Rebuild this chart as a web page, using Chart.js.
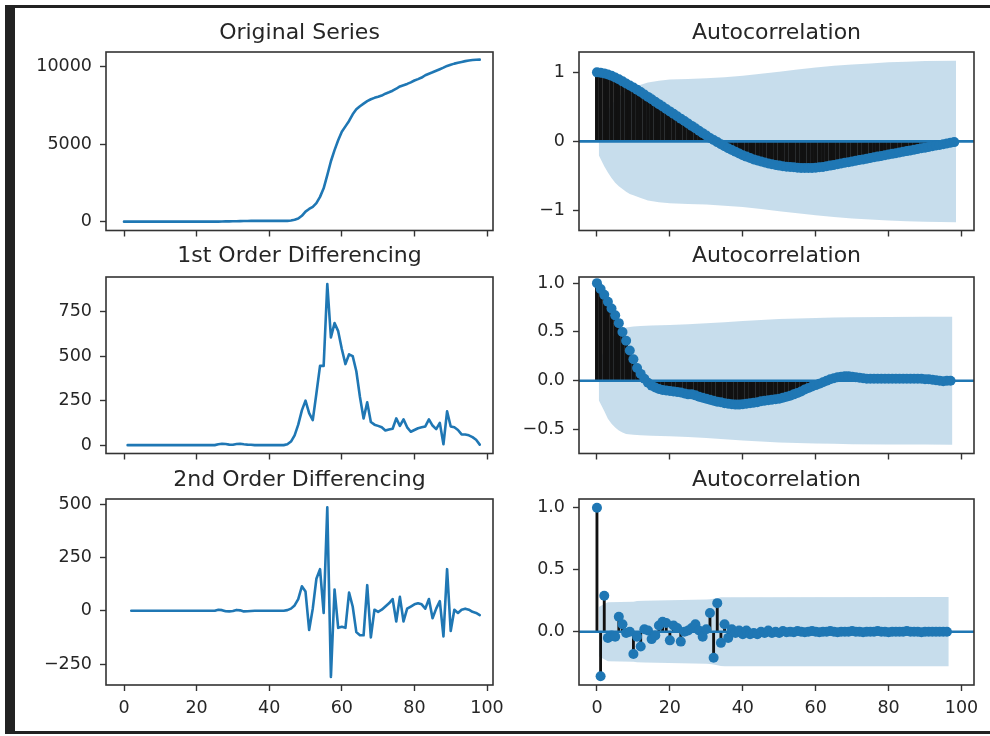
<!DOCTYPE html>
<html><head><meta charset="utf-8">
<script src="https://cdn.jsdelivr.net/npm/chart.js@4.4.1/dist/chart.umd.min.js"></script>
<style>
html,body{margin:0;padding:0;background:#fff;}
body{width:990px;height:736px;position:relative;overflow:hidden;}
canvas{position:absolute;}
.edge{position:absolute;background:#222;}
</style></head><body>
<div class="edge" style="left:5px;top:5px;width:10px;height:729px"></div>
<div class="edge" style="left:5px;top:5px;width:985px;height:3px"></div>
<div class="edge" style="left:5px;top:731px;width:985px;height:3px"></div>
<canvas id="c1" width="497" height="233" style="left:16px;top:16px"></canvas>
<canvas id="c2" width="499" height="233" style="left:489px;top:16px"></canvas>
<canvas id="c3" width="497" height="233" style="left:16px;top:239px"></canvas>
<canvas id="c4" width="499" height="233" style="left:489px;top:239px"></canvas>
<canvas id="c5" width="497" height="272" style="left:16px;top:463px"></canvas>
<canvas id="c6" width="499" height="272" style="left:489px;top:463px"></canvas>
<script>
// ---------- data ----------
const titles = ['Original Series', 'Autocorrelation', '1st Order Differencing', 'Autocorrelation', '2nd Order Differencing', 'Autocorrelation'];

const xTicks = [0, 20, 40, 60, 80, 100];
const xTickLabels = ['0', '20', '40', '60', '80', '100'];

const origTicks = [0, 5000, 10000];
const origTickLabels = ['0', '5000', '10000'];
const diff1Ticks = [0, 250, 500, 750];
const diff1TickLabels = ['0', '250', '500', '750'];
const diff2Ticks = [-250, 0, 250, 500];
const diff2TickLabels = ['\u2212250', '0', '250', '500'];
const acfOrigTicks = [-1, 0, 1];
const acfOrigTickLabels = ['\u22121', '0', '1'];
const acfD1Ticks = [-0.5, 0, 0.5, 1.0];
const acfD1TickLabels = ['\u22120.5', '0.0', '0.5', '1.0'];
const acfD2Ticks = [0, 0.5, 1.0];
const acfD2TickLabels = ['0.0', '0.5', '1.0'];

// series start indices
const origStart = 0, diff1Start = 1, diff2Start = 2;

const origValues = [
  0,0,0,0,0,0,0,0,0,0,
  0,0,0,0,0,0,0,0,0,0,
  0,0,0,0,0,0,5,13,19,22,
  24,30,38,43,46,48,48,48,48,48,
  48,48,48,48,48,53,73,120,200,380,
  650,820,960,1200,1600,2150,3000,3900,4620,5250,
  5800,6150,6500,6930,7250,7450,7620,7780,7900,7990,
  8060,8140,8260,8350,8450,8580,8730,8810,8890,8990,
  9110,9200,9300,9450,9550,9640,9740,9840,9940,10050,
  10130,10200,10260,10310,10360,10400,10430,10450,10455
];

const diff1Values = [
  0,0,0,0,0,0,0,0,0,0,
  0,0,0,0,0,0,0,0,0,0,
  0,0,0,0,0,5,8,6,3,2,
  6,8,5,3,2,0,0,0,0,0,
  0,0,0,0,5,20,55,115,195,250,
  180,140,290,445,445,905,605,685,640,540,
  455,510,500,415,270,150,240,130,115,108,
  100,82,88,92,150,108,145,100,75,85,
  95,100,105,145,110,90,125,5,190,105,
  100,85,60,60,55,45,30,3
];

const diff2Values = [
  0,0,0,0,0,0,0,0,0,0,
  0,0,0,0,0,0,0,0,0,0,
  0,0,0,0,5,3,-2,-3,-1,4,
  2,-3,-2,-1,0,0,0,0,0,0,
  0,0,0,3,10,25,55,115,90,-90,
  10,150,195,-10,485,-310,100,-80,-75,-80,
  85,20,-100,-115,-115,120,-125,5,-5,5,
  20,35,55,-50,65,-50,10,20,30,35,
  30,10,55,-35,10,45,-120,195,-95,5,
  -10,5,10,5,-5,-10,-20
];

const acfOrig = [
  1.00,0.995,0.985,0.97,0.95,0.925,0.90,0.87,0.84,0.81,
  0.78,0.75,0.715,0.68,0.645,0.61,0.575,0.54,0.505,0.47,
  0.435,0.40,0.365,0.33,0.295,0.26,0.225,0.19,0.155,0.12,
  0.085,0.05,0.02,-0.01,-0.04,-0.07,-0.10,-0.125,-0.15,-0.175,
  -0.20,-0.22,-0.24,-0.26,-0.275,-0.29,-0.305,-0.32,-0.33,-0.34,
  -0.35,-0.36,-0.365,-0.37,-0.375,-0.38,-0.385,-0.385,-0.385,-0.385,
  -0.38,-0.375,-0.37,-0.36,-0.35,-0.34,-0.33,-0.32,-0.31,-0.30,
  -0.29,-0.28,-0.27,-0.26,-0.25,-0.24,-0.23,-0.22,-0.21,-0.20,
  -0.19,-0.18,-0.17,-0.16,-0.15,-0.14,-0.13,-0.12,-0.11,-0.10,
  -0.09,-0.08,-0.07,-0.06,-0.05,-0.04,-0.03,-0.02,-0.01
];

const acfD1 = [
  1.00,0.94,0.88,0.81,0.74,0.67,0.59,0.50,0.41,0.31,
  0.22,0.13,0.07,0.02,-0.02,-0.05,-0.07,-0.085,-0.095,-0.10,
  -0.105,-0.11,-0.115,-0.12,-0.13,-0.14,-0.14,-0.15,-0.165,-0.175,
  -0.185,-0.195,-0.205,-0.215,-0.22,-0.23,-0.235,-0.24,-0.245,-0.245,
  -0.24,-0.235,-0.23,-0.225,-0.22,-0.21,-0.205,-0.20,-0.195,-0.19,
  -0.185,-0.175,-0.165,-0.155,-0.14,-0.125,-0.11,-0.09,-0.075,-0.06,
  -0.045,-0.03,-0.015,0.0,0.015,0.025,0.035,0.04,0.045,0.045,
  0.04,0.035,0.03,0.025,0.02,0.02,0.02,0.02,0.02,0.02,
  0.02,0.02,0.02,0.02,0.02,0.02,0.02,0.02,0.02,0.02,
  0.015,0.015,0.01,0.005,0.0,-0.005,0.0,0.0
];

const acfD2 = [
  1.0,-0.36,0.29,-0.05,-0.03,-0.04,0.12,0.06,-0.01,0.0,
  -0.18,-0.04,-0.12,0.02,0.01,-0.06,-0.03,0.05,0.08,0.07,
  -0.07,0.05,0.03,-0.08,0.0,0.01,0.03,0.06,0.01,-0.04,
  0.02,0.15,-0.21,0.23,-0.09,0.06,-0.05,0.02,-0.01,0.01,
  -0.02,0.01,-0.02,-0.01,-0.02,0.0,-0.01,0.01,-0.01,0.0,
  -0.01,0.005,-0.005,0.0,-0.005,0.005,0.0,-0.005,0.0,0.005,
  0.0,-0.005,0.0,0.0,0.005,0.0,-0.005,0.0,0.0,0.0,
  0.005,0.0,0.0,-0.005,0.0,0.0,0.0,0.005,0.0,0.0,
  -0.005,0.0,0.0,0.0,0.0,0.005,0.0,0.0,0.0,-0.005,
  0.0,0.0,0.0,0.0,0.0,0.0,0.0
];

const bandOrigLags = [0.5,2,3,4,5,6,7,8,9,10,12,14,17,20,25,30,35,40,45,50,55,60,65,70,75,80,85,90,98.5];
const bandOrigUpper = [0.20,0.36,0.45,0.53,0.60,0.65,0.69,0.73,0.76,0.78,0.82,0.855,0.88,0.895,0.905,0.915,0.93,0.95,0.98,1.01,1.04,1.07,1.095,1.115,1.13,1.145,1.155,1.165,1.17];
const bandOrigLower = [-0.20,-0.36,-0.45,-0.53,-0.60,-0.65,-0.69,-0.73,-0.76,-0.78,-0.82,-0.855,-0.88,-0.895,-0.905,-0.915,-0.93,-0.95,-0.98,-1.01,-1.04,-1.07,-1.095,-1.115,-1.13,-1.145,-1.155,-1.165,-1.17];

const bandD1Lags = [0.5,2,3,4,5,6,7,8,10,12,15,20,25,30,35,40,45,50,55,60,65,70,80,90,97.5];
const bandD1Upper = [0.20,0.31,0.39,0.44,0.48,0.51,0.53,0.545,0.555,0.56,0.565,0.57,0.578,0.588,0.60,0.612,0.622,0.632,0.638,0.643,0.647,0.65,0.653,0.655,0.656];
const bandD1Lower = [-0.20,-0.31,-0.39,-0.44,-0.48,-0.51,-0.53,-0.545,-0.555,-0.56,-0.565,-0.57,-0.578,-0.588,-0.60,-0.612,-0.622,-0.632,-0.638,-0.643,-0.647,-0.65,-0.653,-0.655,-0.656];

const bandD2Lags = [0.5,2,3,10,11,13,30,31,32,33,34,35,96.5];
const bandD2Upper = [0.199,0.223,0.238,0.242,0.247,0.249,0.259,0.261,0.265,0.270,0.277,0.278,0.279];
const bandD2Lower = [-0.199,-0.223,-0.238,-0.242,-0.247,-0.249,-0.259,-0.261,-0.265,-0.270,-0.277,-0.278,-0.279];

// ---------- style ----------
const FONT = "'DejaVu Sans', sans-serif";
const TEXT = '#262626';
const TICK = '#333333';
const FRAME = '#333333';
const C0 = '#1f77b4';
const BAND = 'rgba(31,119,180,0.25)';
const VLINE = '#111111';

const LEFT_X = {min: -4.96, max: 101.65};
const RIGHT_X = {min: -4.925, max: 103.425};

const toXY = (start, vals) => vals.map((v, i) => ({x: start + i, y: v}));
const zip = (xs, ys) => xs.map((x, i) => ({x: x, y: ys[i]}));

const framePlugin = {
  id: 'frame',
  afterDatasetsDraw(chart) {
    const {ctx, chartArea: a} = chart;
    ctx.save();
    ctx.strokeStyle = FRAME;
    ctx.lineWidth = 1.6;
    ctx.strokeRect(a.left, a.top, a.right - a.left, a.bottom - a.top);
    ctx.restore();
  }
};

function options(p) {
  const grid = {display: true, drawOnChartArea: false, drawTicks: true, tickLength: 6, tickWidth: 1.4, tickColor: TICK, offset: false};
  return {
    responsive: false,
    animation: false,
    devicePixelRatio: 1,
    layout: {padding: {left: 0, top: 0, bottom: 0, right: p.rightPad}},
    plugins: {
      legend: {display: false},
      tooltip: {enabled: false},
      title: {display: true, text: p.title, color: TEXT, fullSize: false,
        font: {family: FONT, size: 22, weight: 'normal', lineHeight: 1.2},
        padding: {top: 3.6, bottom: p.titleBottom}}
    },
    scales: {
      x: {
        type: 'linear', min: p.x.min, max: p.x.max, offset: false,
        grid: grid, border: {display: false},
        ticks: {autoSkip: false, maxRotation: 0, minRotation: 0, padding: 6.5, color: TEXT,
          font: {family: FONT, size: 17.5},
          callback: (v, i) => p.showX ? xTickLabels[i] : ''},
        afterBuildTicks: s => { s.ticks = xTicks.map(v => ({value: v})); },
        afterFit: s => { s.height = p.xAxisH; }
      },
      y: {
        type: 'linear', min: p.yMin, max: p.yMax,
        grid: grid, border: {display: false},
        ticks: {autoSkip: false, padding: 8, color: TEXT,
          font: {family: FONT, size: 17.5},
          callback: (v, i) => p.yLabels[i]},
        afterBuildTicks: s => { s.ticks = p.yTicks.map(v => ({value: v})); },
        afterFit: s => { s.width = 90; }
      }
    }
  };
}

function lineChart(id, p, start, vals) {
  new Chart(document.getElementById(id), {
    type: 'line',
    data: {datasets: [{
      data: toXY(start, vals), borderColor: C0, borderWidth: 2.6, pointRadius: 0,
      tension: 0, borderJoinStyle: 'round', borderCapStyle: 'round', fill: false
    }]},
    options: options(p),
    plugins: [framePlugin]
  });
}

function acfChart(id, p, acf, lags, up, lo, barW) {
  new Chart(document.getElementById(id), {
    type: 'line',
    data: {datasets: [
      {type: 'bar', data: toXY(0, acf), backgroundColor: VLINE, borderWidth: 0, barThickness: barW, order: 2},
      {type: 'line', data: zip(lags, up), borderWidth: 0, pointRadius: 0, fill: '+1', backgroundColor: BAND, tension: 0, order: 3},
      {type: 'line', data: zip(lags, lo), borderWidth: 0, pointRadius: 0, fill: false, tension: 0, order: 3},
      {type: 'line', data: [{x: p.x.min, y: 0}, {x: p.x.max, y: 0}], borderColor: C0, borderWidth: 2.6, pointRadius: 0, fill: false, order: 1},
      {type: 'line', data: toXY(0, acf), showLine: false, pointRadius: 5, pointBackgroundColor: C0, pointBorderColor: C0, pointBorderWidth: 0, fill: false, order: 0}
    ]},
    options: options(p),
    plugins: [framePlugin]
  });
}

lineChart('c1', {title: titles[0], x: LEFT_X, rightPad: 20, titleBottom: 6, xAxisH: 10, showX: false,
  yMin: -570, yMax: 10950, yTicks: origTicks, yLabels: origTickLabels}, origStart, origValues);
acfChart('c2', {title: titles[1], x: RIGHT_X, rightPad: 14, titleBottom: 6, xAxisH: 10, showX: false,
  yMin: -1.29, yMax: 1.295, yTicks: acfOrigTicks, yLabels: acfOrigTickLabels}, acfOrig, bandOrigLags, bandOrigUpper, bandOrigLower, 3.2);
lineChart('c3', {title: titles[2], x: LEFT_X, rightPad: 20, titleBottom: 8, xAxisH: 10, showX: false,
  yMin: -47, yMax: 944, yTicks: diff1Ticks, yLabels: diff1TickLabels}, diff1Start, diff1Values);
acfChart('c4', {title: titles[3], x: RIGHT_X, rightPad: 14, titleBottom: 8, xAxisH: 10, showX: false,
  yMin: -0.746, yMax: 1.063, yTicks: acfD1Ticks, yLabels: acfD1TickLabels}, acfD1, bandD1Lags, bandD1Upper, bandD1Lower, 3.2);
lineChart('c5', {title: titles[4], x: LEFT_X, rightPad: 20, titleBottom: 6, xAxisH: 50, showX: true,
  yMin: -348, yMax: 524, yTicks: diff2Ticks, yLabels: diff2TickLabels}, diff2Start, diff2Values);
acfChart('c6', {title: titles[5], x: RIGHT_X, rightPad: 14, titleBottom: 6, xAxisH: 50, showX: true,
  yMin: -0.43, yMax: 1.07, yTicks: acfD2Ticks, yLabels: acfD2TickLabels}, acfD2, bandD2Lags, bandD2Upper, bandD2Lower, 2.2);
</script>
</body></html>
